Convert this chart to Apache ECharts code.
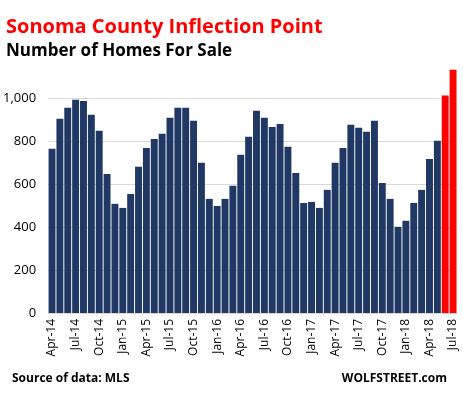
<!DOCTYPE html>
<html>
<head>
<meta charset="utf-8">
<script src="https://cdn.jsdelivr.net/npm/echarts@6/dist/echarts.min.js"></script>
<style>
html,body{margin:0;padding:0;background:#fff;}
#c{width:463px;height:396px;}
</style>
</head>
<body>
<div id="c"></div>
<script>
const categories = [
  'Apr-14','May-14','Jun-14','Jul-14','Aug-14','Sep-14','Oct-14','Nov-14','Dec-14',
  'Jan-15','Feb-15','Mar-15','Apr-15','May-15','Jun-15','Jul-15','Aug-15','Sep-15','Oct-15','Nov-15','Dec-15',
  'Jan-16','Feb-16','Mar-16','Apr-16','May-16','Jun-16','Jul-16','Aug-16','Sep-16','Oct-16','Nov-16','Dec-16',
  'Jan-17','Feb-17','Mar-17','Apr-17','May-17','Jun-17','Jul-17','Aug-17','Sep-17','Oct-17','Nov-17','Dec-17',
  'Jan-18','Feb-18','Mar-18','Apr-18','May-18','Jun-18','Jul-18'
];
const homesForSale = [
  764, 904, 955, 992, 987, 922, 848, 647, 508,
  489, 554, 680, 768, 810, 834, 908, 955, 955, 894, 699, 531,
  498, 531, 592, 736, 820, 941, 908, 866, 880, 773, 652, 512,
  517, 489, 573, 699, 768, 876, 862, 843, 894, 605, 531, 401,
  429, 512, 573, 717, 801, 1012, 1132
];
const highlightMonths = ['Jun-18', 'Jul-18'];
const yTicks = [0, 200, 400, 600, 800, 1000];

const navy = '#203864';
const red = '#ff0000';

const chart = echarts.init(document.getElementById('c'));
chart.setOption({
  animation: false,
  title: [
    {text: 'Sonoma County Inflection Point', left: 1, top: 12,
     textStyle: {color: red, fontSize: 20, fontWeight: 'bold', fontFamily: 'Open Sans'}},
    {text: 'Number of Homes For Sale', left: 1, top: 38,
     textStyle: {color: '#000', fontSize: 17, fontWeight: 'bold', fontFamily: 'Open Sans'}},
    {text: 'Source of data: MLS', left: 7, top: 368,
     textStyle: {color: '#000', fontSize: 12, fontWeight: 'bold', fontFamily: 'Open Sans'}},
    {text: 'WOLFSTREET.com', right: 11, top: 368,
     textStyle: {color: '#000', fontSize: 12, fontWeight: 'bold', fontFamily: 'Open Sans'}}
  ],
  grid: {left: 46, right: 6, top: 68, bottom: 83, containLabel: false},
  xAxis: {
    type: 'category',
    data: categories,
    axisLine: {lineStyle: {color: '#d9d9d9'}},
    axisTick: {show: false},
    axisLabel: {interval: 2, rotate: 90, color: '#000', fontSize: 12, fontFamily: 'Open Sans', margin: 6}
  },
  yAxis: {
    type: 'value',
    min: 0, max: 1140, interval: 200,
    axisLine: {show: false},
    axisTick: {show: false},
    axisLabel: {
      color: '#000', fontSize: 13, fontFamily: 'Open Sans', margin: 12,
      showMaxLabel: false,
      formatter: v => yTicks.indexOf(v) >= 0 ? v.toLocaleString('en-US') : ''
    },
    splitLine: {show: true, showMaxLine: false, lineStyle: {color: '#d9d9d9'}}
  },
  series: [{
    type: 'bar',
    barCategoryGap: '12%',
    data: homesForSale.map((v, i) => ({
      value: v,
      itemStyle: {color: highlightMonths.indexOf(categories[i]) >= 0 ? red : navy}
    }))
  }]
});
</script>
</body>
</html>
